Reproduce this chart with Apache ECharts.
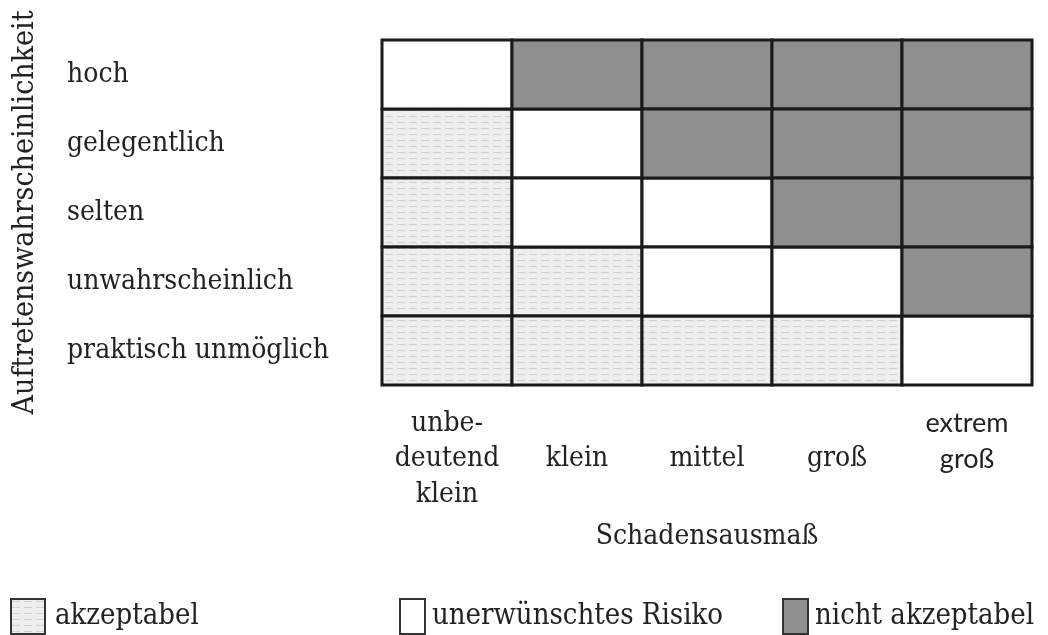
<!DOCTYPE html>
<html><head><meta charset="utf-8">
<script src="https://cdn.jsdelivr.net/npm/echarts@6/dist/echarts.min.js"></script>
<style>html,body{margin:0;padding:0;background:#fff}#c{width:1048px;height:635px}</style>
</head><body><div id="c"></div>
<script>
// Data
const xCategories = ['unbe-\ndeutend\nklein', 'klein', 'mittel', 'groß', 'extrem\ngroß'];
const yCategories = ['hoch', 'gelegentlich', 'selten', 'unwahrscheinlich', 'praktisch unmöglich'];
const classNames = ['akzeptabel', 'unerwünschtes Risiko', 'nicht akzeptabel'];
// rows top->bottom, columns left->right; 0 akzeptabel, 1 unerwünscht, 2 nicht akzeptabel
const riskMatrix = [
  [1, 2, 2, 2, 2],
  [0, 1, 2, 2, 2],
  [0, 1, 1, 2, 2],
  [0, 0, 1, 1, 2],
  [0, 0, 0, 0, 1]
];
const xName = 'Schadensausmaß';
const yName = 'Auftretenswahrscheinlichkeit';

const SERIF = '"DejaVu Serif Condensed", "DejaVu Serif", serif';
const SANS = 'Lato, "Liberation Sans", sans-serif';
const TXT = '#222';

// pattern for akzeptabel
const pc = document.createElement('canvas');
pc.width = 12; pc.height = 6;
const g = pc.getContext('2d');
g.fillStyle = '#eeeeee'; g.fillRect(0, 0, 12, 6);
g.fillStyle = '#cfcfcf'; g.fillRect(1, 2, 8, 1);
const fills = [{image: pc, repeat: 'repeat'}, '#ffffff', '#8f8f8f'];

const seriesData = [[], [], []];
riskMatrix.forEach((row, ri) => row.forEach((v, ci) => seriesData[v].push([ci, yCategories[ri]])));

function renderItem(params, api) {
  const p = api.coord([api.value(0), api.value(1)]);
  const s = api.size([1, 1]);
  return {type: 'rect', shape: {x: p[0] - s[0] / 2, y: p[1] - s[1] / 2, width: s[0], height: s[1]},
    style: api.style({stroke: '#1a1a1a', lineWidth: 3})};
}

function legendAt(name, left, iconW, padLeft) {
  return {data: [name], left: left, top: 598, padding: 0, icon: 'rect', itemWidth: iconW, itemHeight: 35,
    itemStyle: {borderColor: '#333', borderWidth: 2},
    textStyle: {fontFamily: SERIF, fontSize: 29, color: TXT, padding: [0, 0, 0, padLeft]}};
}

const chart = echarts.init(document.getElementById('c'));
chart.setOption({
  animation: false,
  backgroundColor: '#fff',
  grid: {left: 382, right: 16, top: 40, height: 345, containLabel: false, outerBoundsMode: 'none'},
  xAxis: {type: 'category', data: xCategories, axisLine: {show: false}, axisTick: {show: false},
    name: xName, nameLocation: 'middle', nameGap: 138,
    nameTextStyle: {fontFamily: SERIF, fontSize: 28, color: TXT},
    axisLabel: {interval: 0, hideOverlap: false, margin: 74, verticalAlign: 'middle', lineHeight: 35.5,
      fontFamily: SERIF, fontSize: 28, color: TXT,
      formatter: (v, i) => i === 4 ? '{s|' + v.replace('\n', '}\n{s|') + '}\n ' : v,
      rich: {s: {fontFamily: SANS, fontSize: 27, color: TXT, lineHeight: 35.5}}}},
  yAxis: {type: 'category', data: yCategories, inverse: true, axisLine: {show: false}, axisTick: {show: false},
    name: yName, nameLocation: 'middle', nameGap: 342, nameRotate: 90,
    nameTextStyle: {fontFamily: SERIF, fontSize: 30, color: TXT},
    axisLabel: {interval: 0, margin: 315, align: 'left', padding: [6, 0, 0, 0], fontFamily: SERIF, fontSize: 28, color: TXT}},
  legend: [
    legendAt(classNames[0], 10, 34, 5),
    legendAt(classNames[1], 399, 25, 2),
    legendAt(classNames[2], 782, 25, 2)
  ],
  series: classNames.map((n, k) => ({
    name: n, type: 'custom', renderItem: renderItem,
    itemStyle: {color: fills[k]}, data: seriesData[k]
  }))
});
</script></body></html>
